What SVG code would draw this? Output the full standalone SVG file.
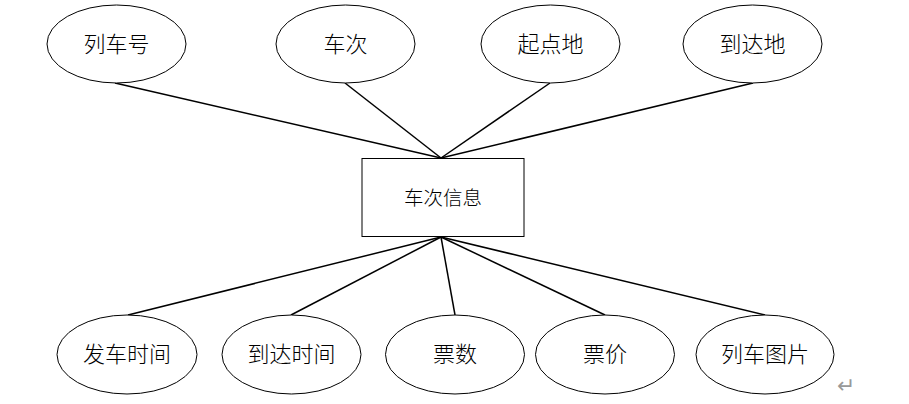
<svg xmlns="http://www.w3.org/2000/svg" width="909" height="404" viewBox="0 0 909 404">
<style>
.n ellipse, .n rect { fill: #fff; stroke: #000; stroke-width: 1; }
.t { font-family: "Liberation Serif", "Noto Sans CJK SC", serif; font-size: 22px; font-weight: 300; text-anchor: middle; dominant-baseline: central; fill: #000; }
.c line { stroke: #000; stroke-width: 1.5; }
</style>
<rect width="909" height="404" fill="#fff"/>
<g class="c" id="connectors">
<line x1="115" y1="83" x2="441" y2="158"/>
<line x1="345" y1="83" x2="441" y2="158"/>
<line x1="550" y1="83" x2="441" y2="158"/>
<line x1="753" y1="83" x2="441" y2="158"/>
<line x1="441" y1="237" x2="128" y2="315"/>
<line x1="441" y1="237" x2="291" y2="315"/>
<line x1="441" y1="237" x2="455" y2="315"/>
<line x1="441" y1="237" x2="605" y2="315"/>
<line x1="441" y1="237" x2="765" y2="315"/>
</g>
<g class="n" id="n_liechehao"><ellipse cx="116.5" cy="44" rx="69.5" ry="39"/><text class="t" x="116.5" y="44">列车号</text></g>
<g class="n" id="n_checi"><ellipse cx="345.5" cy="44" rx="69.5" ry="39"/><text class="t" x="345.5" y="44">车次</text></g>
<g class="n" id="n_qidiandi"><ellipse cx="550.5" cy="44" rx="69.5" ry="39"/><text class="t" x="550.5" y="44">起点地</text></g>
<g class="n" id="n_daodadi"><ellipse cx="752.5" cy="44" rx="69.5" ry="39"/><text class="t" x="752.5" y="44">到达地</text></g>
<g class="n" id="n_checixinxi"><rect x="362" y="158.5" width="162" height="78"/><text class="t" x="443" y="198" style="font-size:19.5px">车次信息</text></g>
<g class="n" id="n_fache"><ellipse cx="127" cy="354.5" rx="70" ry="39.5"/><text class="t" x="127" y="354.5">发车时间</text></g>
<g class="n" id="n_daoda"><ellipse cx="291.5" cy="354.5" rx="69.5" ry="39.5"/><text class="t" x="291.5" y="354.5">到达时间</text></g>
<g class="n" id="n_piaoshu"><ellipse cx="455" cy="354.5" rx="69.5" ry="39.5"/><text class="t" x="455" y="354.5">票数</text></g>
<g class="n" id="n_piaojia"><ellipse cx="605" cy="354.5" rx="69.5" ry="39.5"/><text class="t" x="605" y="354.5">票价</text></g>
<g class="n" id="n_tupian"><ellipse cx="765" cy="354.5" rx="69" ry="39.5"/><text class="t" x="765" y="354.5">列车图片</text></g>
<text x="846" y="385" style="font-family:'DejaVu Sans',sans-serif;font-size:22px;fill:#999;text-anchor:middle;dominant-baseline:central">↵</text>
</svg>
